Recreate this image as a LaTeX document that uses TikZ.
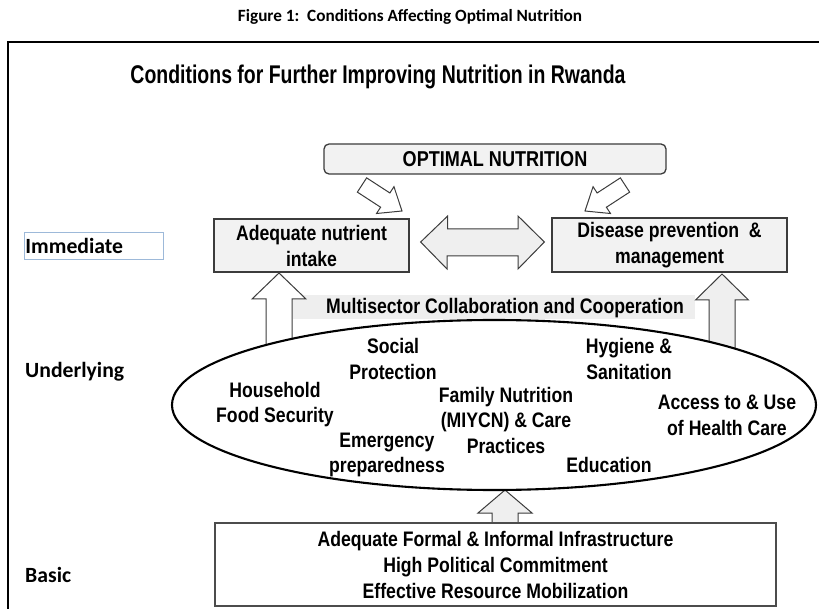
\documentclass[tikz,border=0pt]{standalone}
\usepackage{fontspec}
\setmainfont{Liberation Sans}
\newfontfamily\nar[FakeStretch=0.84]{Liberation Sans}
\newfontfamily\narttl[FakeStretch=0.76]{Liberation Sans}
\newfontfamily\calfont{Carlito}
\usetikzlibrary{shapes.geometric,calc}
\definecolor{boxf}{HTML}{F2F2F2}
\definecolor{boxc}{HTML}{3C3C3C}
\definecolor{arrf}{HTML}{EFEFEF}
\definecolor{bann}{HTML}{EEEEEE}
\definecolor{blueb}{HTML}{9DB9D9}
\newcommand\blockarrow[6]{%
  \coordinate (ba-m) at ($(#3)!#6!(#2)$);
  \draw[#1] ($(#2)!#4!90:(#3)$) -- ($(ba-m)!#4!90:(#3)$) -- ($(ba-m)!#5!90:(#3)$) -- (#3)
    -- ($(ba-m)!#5!-90:(#3)$) -- ($(ba-m)!#4!-90:(#3)$) -- ($(#2)!#4!-90:(#3)$) -- cycle;}
\begin{document}
\begin{tikzpicture}[x=1pt,y=-1pt,
  lbl/.style={font=\calfont\bfseries\fontsize{21.7}{26}\selectfont, anchor=west, inner sep=0pt},
  txt/.style={font=\nar\bfseries\fontsize{21}{25.5}\selectfont, align=center, inner sep=0pt},
  gbox/.style={draw=boxc, fill=boxf, line width=1.3pt, inner sep=0pt, align=center,
    font=\nar\bfseries\fontsize{21}{26}\selectfont},
  harrow/.style={draw=boxc, fill=white, line width=1pt, line join=miter},
  garrow/.style={draw=boxc, fill=arrf, line width=1pt, line join=miter}]
\useasboundingbox (0,0) rectangle (819,609);
% frame
\draw[line width=2.2pt] (8,612) -- (8,42) -- (822,42);
% titles
\node[font=\calfont\bfseries\fontsize{17.2}{20}\selectfont, inner sep=0pt] (fig) at (410,17)
  {Figure 1:\ \ Conditions Affecting Optimal Nutrition};
\node[font=\narttl\bfseries\fontsize{25.6}{30}\selectfont, inner sep=0pt] (ttl) at (378,77)
  {Conditions for Further Improving Nutrition in Rwanda};
% level labels
\node[draw=blueb, line width=0.9pt, minimum height=27pt, text width=137pt, align=left,
  inner sep=1pt, anchor=west, font=\calfont\bfseries\fontsize{21.7}{26}\selectfont] (imm) at (24,245.5) {Immediate};
\node[lbl] (und) at (25,372) {Underlying};
\node[lbl] (bas) at (25,575) {Basic};
% top boxes
\node[gbox, rounded corners=5pt, minimum width=342pt, minimum height=30pt,
  font=\nar\bfseries\fontsize{21.5}{24}\selectfont] (opt) at (495,159) {OPTIMAL NUTRITION};
\node[gbox, minimum width=195pt, minimum height=53pt] (ani) at (311.5,245.5) {Adequate nutrient\\intake};
\node[gbox, minimum width=235pt, minimum height=54pt] (dis) at (669.5,245) {Disease prevention\ \ \&\\management};
% angled arrows towards optimal nutrition
\coordinate (la-t) at (362,185); \coordinate (la-p) at (402,211);
\coordinate (ra-t) at (625,185); \coordinate (ra-p) at (585,211);
\blockarrow{harrow}{la-t}{la-p}{8.5pt}{16pt}{20pt}
\blockarrow{harrow}{ra-t}{ra-p}{8.5pt}{16pt}{20pt}
% double arrow between boxes
\coordinate (dl) at ($(ani.east)+(11,-3.5)$);
\coordinate (dr) at ($(dis.west)+(-7,-3)$);
\draw[garrow] (dl) -- ++(27,-26) -- ++(0,13) -- (518,229) -- (518,216) -- (dr)
  -- (518,269) -- (518,256) -- (447,256) -- (447,269) -- cycle;
% multisector banner
\node[fill=bann, minimum width=402pt, minimum height=24pt, inner sep=0pt] (ban) at (494,307) {};
\node[txt] (mul) at (505,308) {Multisector Collaboration and Cooperation};
% up arrows from ellipse
\coordinate (ul-p) at (279,273); \coordinate (ul-t) at (279,365);
\coordinate (ur-p) at (722,274); \coordinate (ur-t) at (722,365);
\blockarrow{harrow}{ul-t}{ul-p}{13pt}{27pt}{26pt}
\blockarrow{garrow}{ur-t}{ur-p}{13pt}{26.5pt}{26pt}
% basic arrow
\coordinate (ub-p) at (505,490); \coordinate (ub-t) at (505,535);
\blockarrow{garrow}{ub-t}{ub-p}{13pt}{27pt}{23pt}
% ellipse
\node[ellipse, draw, line width=2.1pt, fill=white, minimum width=644pt, minimum height=170pt, inner sep=0pt] (ell) at (494,405) {};
\node[txt] (soc) at (393,359) {Social\\Protection};
\node[txt] (hh) at (275,404.5) {Household\\Food Security};
\node[txt] (em) at (387,455) {Emergency\\preparedness};
\node[txt] (fam) at (506,420) {Family Nutrition\\(MIYCN) \& Care\\Practices};
\node[txt] (hyg) at (629,359) {Hygiene \&\\Sanitation};
\node[txt] (acc) at (727,415.5) {Access to \& Use\\of Health Care};
\node[txt] (edu) at (609,465) {Education};
% basic box
\node[draw=black!70, fill=white, line width=1.4pt, minimum width=561pt, minimum height=83pt,
  inner sep=0pt, align=center, font=\nar\bfseries\fontsize{21}{26}\selectfont] (basic) at (495.5,564.5)
  {Adequate Formal \& Informal Infrastructure\\High Political Commitment\\Effective Resource Mobilization};
\end{tikzpicture}
\end{document}
